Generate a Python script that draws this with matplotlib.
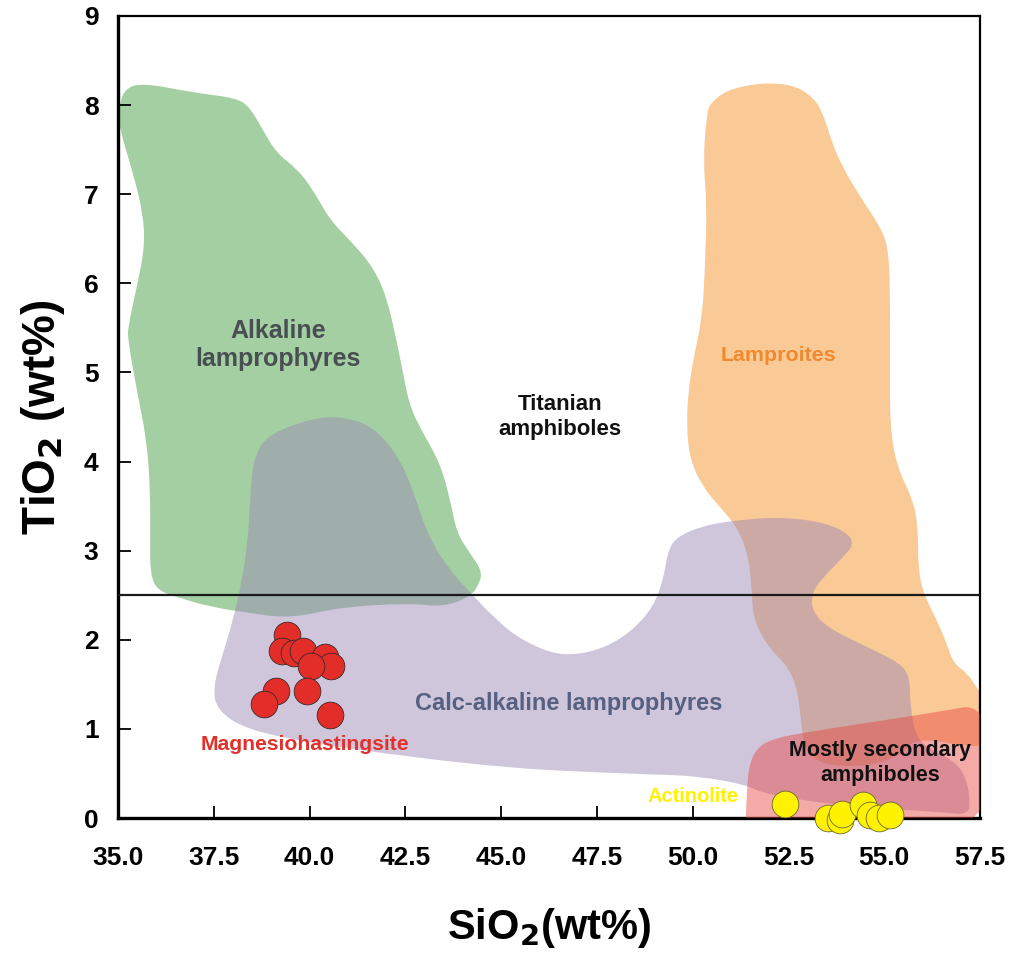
import matplotlib.pyplot as plt
from matplotlib.patches import PathPatch
from matplotlib.path import Path

plt.rcParams['font.family'] = ['Liberation Sans', 'DejaVu Sans']
plt.rcParams['font.weight'] = 'bold'

# amphibole analyses (SiO2, TiO2 in wt%)
mhs_sio2 = [39.42, 39.27, 39.60, 39.84, 40.40, 40.55, 40.03, 39.12, 38.81, 39.93, 40.53]
mhs_tio2 = [2.05, 1.87, 1.85, 1.87, 1.81, 1.71, 1.71, 1.43, 1.28, 1.43, 1.16]
act_sio2 = [52.41, 53.54, 53.84, 53.89, 54.44, 54.63, 54.85, 55.15]
act_tio2 = [0.16, 0.00, -0.02, 0.05, 0.15, 0.03, 0.00, 0.03]

# compositional fields, outlines as (SiO2, TiO2)
alkaline_field = [
    (35.01, 7.91), (35.14, 8.18), (35.65, 8.25), (36.96, 8.14), (38.10, 8.08),
    (38.45, 7.97), (38.78, 7.72), (39.14, 7.46), (39.66, 7.29), (40.09, 7.05),
    (40.53, 6.71), (41.13, 6.45), (41.66, 6.18), (42.01, 5.85), (42.27, 5.36),
    (42.44, 4.99), (42.62, 4.61), (42.96, 4.32), (43.41, 3.98), (43.67, 3.57),
    (43.84, 3.20), (44.19, 2.97), (44.49, 2.78), (44.45, 2.64), (44.19, 2.48),
    (43.48, 2.37), (42.62, 2.41), (40.87, 2.37), (39.49, 2.24), (38.45, 2.30),
    (37.40, 2.37), (36.53, 2.48), (36.01, 2.56), (35.84, 2.75), (35.84, 3.12),
    (35.84, 3.68), (35.75, 4.24), (35.49, 4.80), (35.26, 5.36), (35.26, 5.51),
    (35.49, 5.96), (35.70, 6.41), (35.65, 6.79), (35.39, 7.24), (35.05, 7.72),
]
lamproite_field = [
    (50.37, 7.91), (50.46, 8.02), (50.89, 8.17), (51.76, 8.25), (52.62, 8.23),
    (53.14, 8.09), (53.40, 7.91), (53.59, 7.64), (53.85, 7.35), (54.37, 6.97),
    (54.89, 6.64), (55.10, 6.41), (55.15, 5.96), (55.15, 5.03), (55.15, 4.39),
    (55.33, 3.94), (55.75, 3.57), (55.88, 3.27), (55.88, 2.82), (56.01, 2.53),
    (56.37, 2.22), (56.63, 1.96), (56.80, 1.74), (57.15, 1.63), (57.41, 1.47),
    (57.70, 1.27), (57.70, 0.82), (57.14, 0.80), (56.27, 0.88), (55.67, 0.85),
    (55.59, 0.76), (54.97, 0.62), (54.11, 0.57), (53.24, 0.62), (52.89, 0.82),
    (52.82, 1.13), (52.72, 1.47), (52.45, 1.72), (52.02, 1.89), (51.58, 2.22),
    (51.54, 2.59), (51.44, 2.97), (51.15, 3.27), (50.71, 3.49), (50.27, 3.71),
    (49.93, 4.02), (49.84, 4.39), (49.88, 4.77), (50.01, 5.14), (50.24, 5.59),
    (50.32, 6.15), (50.37, 6.90), (50.27, 7.38),
]
calc_alkaline_field = [
    (38.62, 4.10), (38.88, 4.28), (39.66, 4.43), (40.45, 4.51), (41.23, 4.47),
    (41.84, 4.32), (42.36, 4.02), (42.70, 3.68), (43.06, 3.20), (43.58, 2.82),
    (44.19, 2.53), (44.79, 2.26), (45.41, 2.03), (46.28, 1.85), (46.97, 1.83),
    (47.76, 1.92), (48.44, 2.11), (48.97, 2.37), (49.23, 2.67), (49.36, 3.01),
    (49.58, 3.15), (50.19, 3.27), (51.05, 3.34), (52.36, 3.38), (53.50, 3.31),
    (54.10, 3.18), (54.19, 3.06), (53.93, 2.93), (53.40, 2.70), (53.11, 2.53),
    (53.11, 2.33), (53.50, 2.14), (54.54, 1.92), (55.41, 1.74), (55.67, 1.58),
    (55.67, 1.25), (55.85, 0.88), (56.27, 0.76), (56.89, 0.62), (57.15, 0.43),
    (57.24, 0.20), (57.19, 0.03), (56.46, 0.07), (54.63, 0.11), (52.80, 0.20),
    (51.76, 0.29), (51.41, 0.37), (50.19, 0.47), (48.89, 0.49), (47.06, 0.52),
    (45.31, 0.56), (42.70, 0.68), (40.09, 0.84), (38.36, 0.99), (37.58, 1.21),
    (37.48, 1.47), (37.74, 1.85), (38.00, 2.22), (38.24, 2.67), (38.39, 3.12),
    (38.45, 3.57), (38.50, 3.91),
]
secondary_field = [
    (51.37, -0.3), (51.41, 0.35), (51.50, 0.65), (51.76, 0.82), (52.20, 0.90),
    (52.80, 0.95), (54.55, 1.07), (56.27, 1.18), (57.80, 1.30), (57.80, -0.3),
]


def smooth_patch(pts, **kw):
    # closed quadratic-bezier outline using the vertices as control points
    n = len(pts)
    mid = [((pts[i][0] + pts[(i + 1) % n][0]) / 2, (pts[i][1] + pts[(i + 1) % n][1]) / 2)
           for i in range(n)]
    verts = [mid[-1]]
    codes = [Path.MOVETO]
    for i in range(n):
        verts += [pts[i], mid[i]]
        codes += [Path.CURVE3, Path.CURVE3]
    verts.append(mid[-1])
    codes.append(Path.CLOSEPOLY)
    return PathPatch(Path(verts, codes), **kw)


fig = plt.figure(figsize=(10.21, 9.57), dpi=100)
ax = fig.add_axes([0.1156, 0.1452, 0.8443, 0.8381])

ax.add_patch(smooth_patch(alkaline_field, fc='#a3cfa2', ec='none', zorder=1))
ax.add_patch(smooth_patch(lamproite_field, fc='#f9c996', ec='none', zorder=1))
ax.add_patch(smooth_patch(calc_alkaline_field, fc='#9b88b6', alpha=0.48, ec='none', zorder=2))
ax.add_patch(smooth_patch(secondary_field, fc='#e8453f', alpha=0.45, ec='none', zorder=3))

# Ti-rich / Ti-poor divide
ax.axhline(2.5, color='#1a1a1a', lw=1.6, zorder=4)

ax.scatter(mhs_sio2, mhs_tio2, s=370, c='#e32d28', edgecolors='#3a2a2a', linewidths=0.6, zorder=5)
ax.scatter(act_sio2, act_tio2, s=370, c='#fff200', edgecolors='#6a6a30', linewidths=0.6,
           zorder=5, clip_on=False)

ax.text(39.18, 5.31, 'Alkaline\nlamprophyres', ha='center', va='center', fontsize=18,
        color='#484e52', linespacing=1.2)
ax.text(46.54, 4.50, 'Titanian\namphiboles', ha='center', va='center', fontsize=16,
        color='#111111', linespacing=1.25)
ax.text(52.23, 5.19, 'Lamproites', ha='center', va='center', fontsize=15.4, color='#f08a2e')
ax.text(46.75, 1.28, 'Calc-alkaline lamprophyres', ha='center', va='center', fontsize=17,
        color='#566080')
ax.text(39.88, 0.83, 'Magnesiohastingsite', ha='center', va='center', fontsize=15.2,
        color='#e2302a')
ax.text(50.01, 0.24, 'Actinolite', ha='center', va='center', fontsize=14.5, color='#fff200')
ax.text(54.89, 0.62, 'Mostly secondary\namphiboles', ha='center', va='center', fontsize=15.5,
        color='#111111', linespacing=1.25)

ax.set_xlim(35, 57.5)
ax.set_ylim(0, 9)
xt = [35 + 2.5 * i for i in range(10)]
ax.set_xticks(xt)
ax.set_xticklabels(['%.1f' % v for v in xt])
ax.set_yticks(range(10))
ax.tick_params(axis='both', direction='in', length=9, width=1.3, labelsize=19,
               top=False, right=False)
ax.tick_params(axis='x', pad=20)
ax.tick_params(axis='y', pad=14)
for lab in ax.get_xticklabels() + ax.get_yticklabels():
    lab.set_fontweight('bold')
ax.spines['left'].set_linewidth(2.4)
ax.spines['bottom'].set_linewidth(2.4)
ax.spines['top'].set_linewidth(1.6)
ax.spines['right'].set_linewidth(1.6)

ax.set_xlabel('SiO$_\\mathbf{2}$(wt%)', fontsize=30, fontweight='bold', labelpad=26)
ax.set_ylabel('TiO$_\\mathbf{2}$ (wt%)', fontsize=33, fontweight='bold', labelpad=12)

fig.savefig('out.png', dpi=100)
